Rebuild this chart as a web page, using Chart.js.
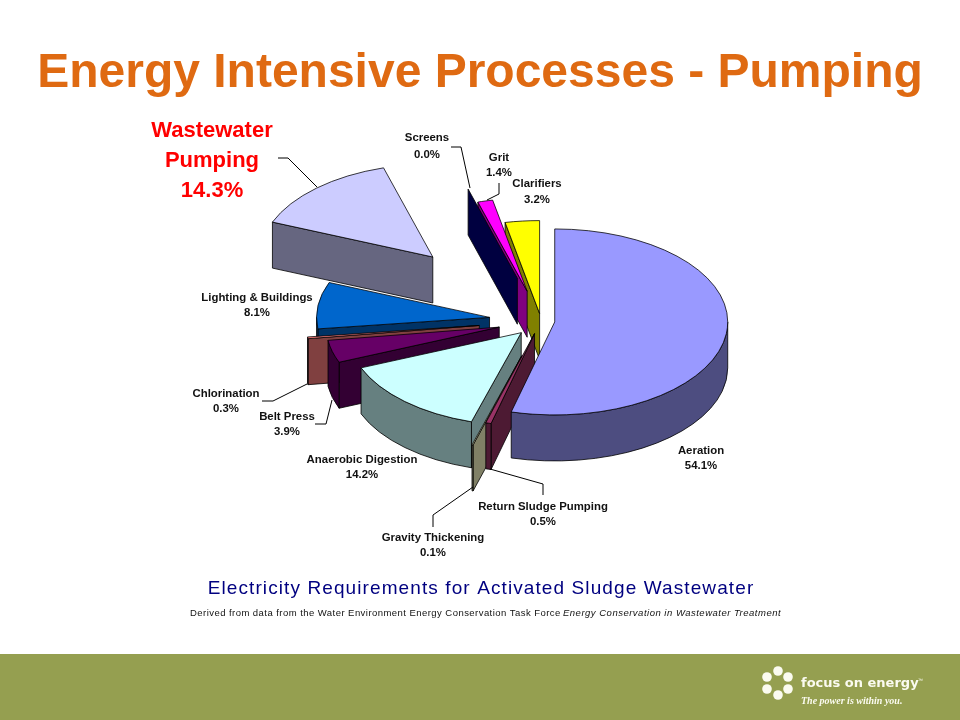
<!DOCTYPE html>
<html>
<head>
<meta charset="utf-8">
<title>Energy Intensive Processes - Pumping</title>
<script src="https://cdn.jsdelivr.net/npm/chart.js@4"></script>
<style>
  html, body { margin: 0; padding: 0; background: #fff; }
  canvas { display: block; }
</style>
</head>
<body>
<canvas id="grafico" width="960" height="720"></canvas>
<script>
// dados (% em sentido horario a partir das 12h)
var categorias = ['Aeration', 'Return Sludge Pumping', 'Gravity Thickening', 'Anaerobic Digestion',
    'Belt Press', 'Chlorination', 'Lighting & Buildings', 'Wastewater Pumping', 'Screens', 'Grit', 'Clarifiers'];
var valores = [54.1, 0.5, 0.1, 14.2, 3.9, 0.3, 8.1, 14.3, 0.0, 1.4, 3.2];

var coresTopo = ['#9999FF', '#993366', '#FFFFCC', '#CCFFFF', '#660066', '#FF8080',
    '#0066CC', '#CCCCFF', '#000080', '#FF00FF', '#FFFF00'];
// explosao de cada fatia, em fracao do raio
var explosao = [0.08, 0.14, 0.39, 0.17, 0.25, 0.36, 0.30, 0.93, 0.48, 0.33, 0.08];
// ordem de pintura: do fundo para a frente
var ordem = [7, 10, 9, 8, 6, 5, 4, 3, 2, 1, 0];

// geometria do "3D"
var centroX = 541, centroY = 321, raio = 173, achatado = 93 / 173, altura = 46;

// rotulos: [linhas, centro x, y 1a linha, y 2a linha]
var rotulos = [
    ['Aeration', '54.1%', 701, 451, 466],
    ['Return Sludge Pumping', '0.5%', 543, 507, 522],
    ['Gravity Thickening', '0.1%', 433, 538, 553],
    ['Anaerobic Digestion', '14.2%', 362, 460, 475],
    ['Belt Press', '3.9%', 287, 417, 432],
    ['Chlorination', '0.3%', 226, 394, 409],
    ['Lighting & Buildings', '8.1%', 257, 298, 313],
    ['Screens', '0.0%', 427, 138, 155],
    ['Grit', '1.4%', 499, 158, 173],
    ['Clarifiers', '3.2%', 537, 184, 200]
];
var guias = [
    [[451, 147], [461, 147], [470, 188]],
    [[499, 183], [499, 194], [487, 200]],
    [[278, 158], [288, 158], [317, 187]],
    [[262, 401], [273, 401], [307, 384]],
    [[315, 424], [326, 424], [332, 400]],
    [[433, 527], [433, 515], [473, 487]],
    [[490, 469], [543, 484], [543, 495]]
];

function escurecer(hex) {
    var n = parseInt(hex.slice(1), 16);
    return 'rgb(' + Math.round((n >> 16) / 2) + ',' + Math.round(((n >> 8) & 255) / 2) + ',' + Math.round((n & 255) / 2) + ')';
}

function texto(ctx, s, x, y, fonte, cor, alinhamento, espaco) {
    ctx.font = fonte;
    ctx.fillStyle = cor;
    ctx.textAlign = alinhamento || 'center';
    ctx.textBaseline = 'middle';
    ctx.letterSpacing = espaco || '0px';
    ctx.fillText(s, x, y);
    ctx.letterSpacing = '0px';
}

function paredeCorte(ctx, ax, ay, r, ang, cor) {
    var px = ax + r * Math.cos(ang), py = ay + r * achatado * Math.sin(ang);
    ctx.beginPath();
    ctx.moveTo(ax, ay);
    ctx.lineTo(px, py);
    ctx.lineTo(px, py + altura);
    ctx.lineTo(ax, ay + altura);
    ctx.closePath();
    ctx.fillStyle = cor;
    ctx.fill();
    ctx.stroke();
}

function paredeBorda(ctx, ax, ay, r, ini, fim, cor) {
    var a = Math.max(ini, 0), b = Math.min(fim, Math.PI);
    if (b <= a) return;
    ctx.beginPath();
    ctx.ellipse(ax, ay, r, r * achatado, 0, a, b);
    ctx.ellipse(ax, ay + altura, r, r * achatado, 0, b, a, true);
    ctx.closePath();
    ctx.fillStyle = cor;
    ctx.fill();
    ctx.stroke();
}

var pizza3d = {
    id: 'pizza3d',
    beforeDraw: function(chart) {
        var ctx = chart.ctx;
        ctx.save();
        ctx.fillStyle = '#ffffff';
        ctx.fillRect(0, 0, 960, 720);
        ctx.fillStyle = '#959F50';
        ctx.fillRect(0, 654, 960, 66);
        ctx.restore();
    },
    beforeDatasetsDraw: function(chart) {
        var ctx = chart.ctx;
        var arcos = chart.getDatasetMeta(0).data;
        ordem.forEach(function(i) {
            var el = arcos[i];
            var meio = (el.startAngle + el.endAngle) / 2;
            var r = el.outerRadius;
            var ax = centroX + Math.cos(meio) * explosao[i] * r;
            var ay = centroY + Math.sin(meio) * explosao[i] * r * achatado;
            var lado = escurecer(coresTopo[i]);
            ctx.save();
            ctx.lineWidth = 0.8;
            ctx.strokeStyle = '#000';
            ctx.lineJoin = 'round';
            if (Math.cos(el.startAngle) < 0) paredeCorte(ctx, ax, ay, r, el.startAngle, lado);
            if (Math.cos(el.endAngle) > 0) paredeCorte(ctx, ax, ay, r, el.endAngle, lado);
            paredeBorda(ctx, ax, ay, r, el.startAngle, el.endAngle, lado);
            // topo: o proprio arco do Chart.js, achatado
            ctx.translate(ax, ay);
            ctx.scale(1, achatado);
            ctx.translate(-el.x, -el.y);
            el.draw(ctx);
            ctx.restore();
        });
        return false;
    },
    afterDraw: function(chart) {
        var ctx = chart.ctx;
        ctx.save();
        ctx.strokeStyle = '#000';
        ctx.lineWidth = 1;
        guias.forEach(function(g) {
            ctx.beginPath();
            g.forEach(function(p, k) {
                if (k === 0) ctx.moveTo(p[0], p[1]); else ctx.lineTo(p[0], p[1]);
            });
            ctx.stroke();
        });
        var fonteRotulo = 'bold 11.4px "Liberation Sans", Arial, sans-serif';
        rotulos.forEach(function(r) {
            texto(ctx, r[0], r[2], r[3], fonteRotulo, '#111');
            texto(ctx, r[1], r[2], r[4], fonteRotulo, '#111');
        });
        var fonteDestaque = 'bold 22px "Liberation Sans", Arial, sans-serif';
        texto(ctx, 'Wastewater', 212, 131, fonteDestaque, '#FF0000');
        texto(ctx, 'Pumping', 212, 161, fonteDestaque, '#FF0000');
        texto(ctx, '14.3%', 212, 191, fonteDestaque, '#FF0000');

        texto(ctx, 'Electricity Requirements for Activated Sludge Wastewater', 481, 589,
            '19px "Liberation Sans", Arial, sans-serif', '#000080', 'center', '1.1px');
        texto(ctx, 'Derived from data from the Water Environment Energy Conservation Task Force', 190, 613,
            '9.5px "Liberation Sans", Arial, sans-serif', '#111', 'left', '0.45px');
        texto(ctx, 'Energy Conservation in Wastewater Treatment', 563, 613,
            'italic 9.5px "Liberation Sans", Arial, sans-serif', '#111', 'left', '0.5px');

        // logo do rodape
        ctx.fillStyle = '#FBFBF0';
        [[778, 671], [788, 677], [788, 689], [778, 695], [767, 689], [767, 677]].forEach(function(p) {
            ctx.beginPath();
            ctx.arc(p[0], p[1], 4.8, 0, Math.PI * 2);
            ctx.fill();
        });
        texto(ctx, 'focus on energy', 801, 684, 'bold 13px "DejaVu Sans", sans-serif', '#FBFBF0', 'left');
        texto(ctx, '\u2122', 918, 681, '5px "Liberation Sans", sans-serif', '#FBFBF0', 'left');
        texto(ctx, 'The power is within you.', 801, 701, 'italic bold 10px "Liberation Serif", serif', '#FBFBF0', 'left');
        ctx.restore();
    }
};

window.onload = function() {
    var ctx = document.getElementById('grafico').getContext('2d');
    new Chart(ctx, {
        type: 'pie',
        data: {
            labels: categorias,
            datasets: [{
                data: valores,
                backgroundColor: coresTopo,
                borderColor: '#000',
                borderWidth: 1
            }]
        },
        options: {
            responsive: false,
            animation: false,
            events: [],
            radius: raio,
            plugins: {
                legend: { display: false },
                tooltip: { enabled: false },
                title: {
                    display: true,
                    text: 'Energy Intensive Processes - Pumping',
                    color: '#DF6A12',
                    font: { family: '"Liberation Sans", Arial, sans-serif', size: 48, weight: 'bold' },
                    padding: { top: 45, bottom: 10 }
                }
            }
        },
        plugins: [pizza3d]
    });
};
</script>
</body>
</html>
